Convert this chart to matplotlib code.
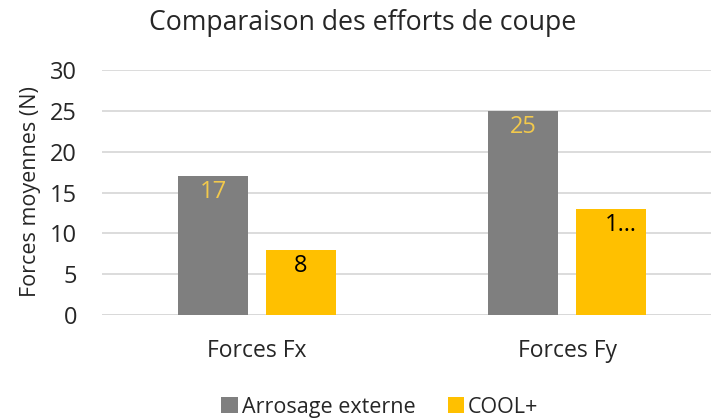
import matplotlib
matplotlib.use("Agg")
import matplotlib.pyplot as plt
import numpy as np

categories = ["Forces Fx", "Forces Fy"]
series_names = ["Arrosage externe", "COOL+"]
arrosage = [17, 25]
cool = [8, 13]
arrosage_labels = ["17", "25"]
cool_labels = ["8", "1…"]
yticks = [0, 5, 10, 15, 20, 25, 30]

plt.rcParams['font.family'] = ['Open Sans', 'DejaVu Sans']

fig = plt.figure(figsize=(7.11, 4.19), dpi=100)
ax = fig.add_axes([102/711, 1-315/419, 620/711, 245/419])

x = np.arange(len(categories))
w = 0.225
off = 0.142
gray = "#7F7F7F"
yellow = "#FFC000"
b1 = ax.bar(x - off, arrosage, w, color=gray, label=series_names[0], zorder=3)
b2 = ax.bar(x + off, cool, w, color=yellow, label=series_names[1], zorder=3)

def add_labels(bars, labels, color, xoffs):
    for rect, lab, xo in zip(bars, labels, xoffs):
        ax.annotate(lab, (rect.get_x() + rect.get_width() / 2, rect.get_height()),
                    xytext=(xo, -3), textcoords='offset points',
                    ha='center', va='top', color=color, fontsize=17, zorder=4)

add_labels(b1, arrosage_labels, "#F2C94C", [0, 0])
add_labels(b2, cool_labels, "black", [0, 7])

ax.set_xlim(-0.5, 1.5)
ax.set_ylim(0, 30)
ax.set_yticks(yticks)
ax.set_xticks(x)
ax.set_xticklabels(categories, fontsize=16.5, color="#262626")
ax.tick_params(axis='y', labelsize=17, length=0, pad=18, colors="#262626")
ax.tick_params(axis='x', length=0, pad=17)
ax.grid(axis='y', color="#D9D9D9", linewidth=1.3, zorder=0)
for s in ax.spines.values():
    s.set_visible(False)
ax.axhline(0, color="#D9D9D9", linewidth=1.3, zorder=1)

ax.set_ylabel("Forces moyennes (N)", fontsize=15.5, color="#262626")
ax.yaxis.set_label_coords(-0.098, 0.505)
fig.text(363/711, 1-23/419, "Comparaison des efforts de coupe", ha='center', va='center',
         fontsize=19.2, color="#262626")

leg = fig.legend(handles=[b1, b2], labels=series_names, loc='center',
                 bbox_to_anchor=(380/711, 1-407/419), ncol=2, frameon=False,
                 fontsize=15.5, handlelength=0.75, handleheight=0.75, handletextpad=0.2,
                 columnspacing=1.5, borderpad=0)
for t in leg.get_texts():
    t.set_color("#262626")

fig.savefig("out.png", dpi=100)
